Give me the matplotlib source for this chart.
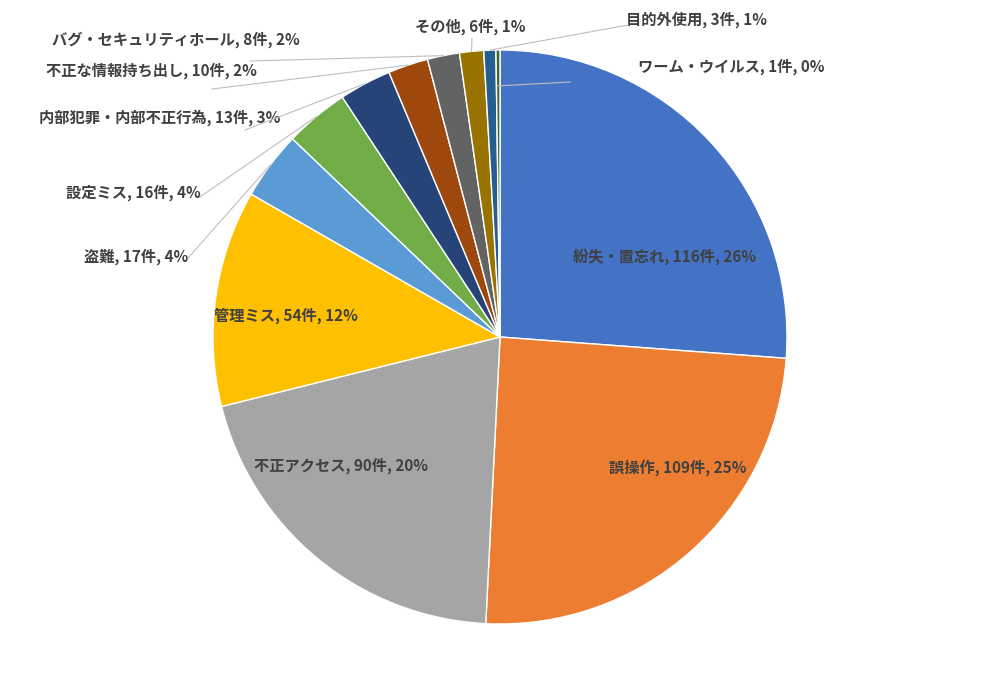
import numpy as np
import matplotlib
matplotlib.use("Agg")
import matplotlib.pyplot as plt

plt.rcParams["font.family"] = ["Noto Sans CJK JP", "DejaVu Sans"]

categories = [
    "紛失・置忘れ", "誤操作", "不正アクセス", "管理ミス", "盗難", "設定ミス",
    "内部犯罪・内部不正行為", "不正な情報持ち出し", "バグ・セキュリティホール",
    "その他", "目的外使用", "ワーム・ウイルス",
]
counts = [116, 109, 90, 54, 17, 16, 13, 10, 8, 6, 3, 1]
colors = [
    "#4472C4", "#ED7D31", "#A5A5A5", "#FFC000", "#5B9BD5", "#70AD47",
    "#264478", "#9E480E", "#636363", "#997300", "#255E91", "#43682B",
]

W, H = 1000, 674
cx, cy, R = 500, 337, 287

fig = plt.figure(figsize=(W / 100, H / 100), dpi=100)
ax = fig.add_axes([0, 0, 1, 1])
ax.set_xlim(0, W)
ax.set_ylim(0, H)
ax.axis("off")

ax.pie(counts, colors=colors, startangle=90, counterclock=False,
       center=(cx, H - cy), radius=R,
       wedgeprops=dict(edgecolor="white", linewidth=1.0))
ax.set_xlim(0, W)
ax.set_ylim(0, H)

total = sum(counts)
pct = [round(c / total * 100) for c in counts]
labels = [f"{n}, {c}件, {p}%" for n, c, p in zip(categories, counts, pct)]

# label centres in pixels (x, y from top); inside labels have no leader
label_pos = [
    (665, 257), (678, 468), (341, 466), (286, 316), (136, 257), (133, 193),
    (160, 118), (151, 71), (176, 40), (470, 27), (697, 20), (731, 67),
]
# leader start (pixel) and radius fraction at the wedge end
leaders = {
    4: ((188, 258), 1.0),
    5: ((200, 197), 1.0),
    6: ((245, 130), 1.0),
    7: ((212, 89), 1.0),
    8: ((250, 61), 1.0),
    9: ((472, 38), 1.0),
    10: ((628, 25), 1.0),
    11: ((570, 82), 0.875),
}

cum = np.cumsum([0] + counts)
for i, lab in enumerate(labels):
    x, y = label_pos[i]
    ax.text(x, H - y, lab, ha="center", va="center", fontsize=11,
            fontweight="bold", color="#404040")
    if i in leaders:
        (sx, sy), frac = leaders[i]
        mid = (cum[i] + cum[i + 1]) / 2 / total * 2 * np.pi
        ex = cx + R * frac * np.sin(mid)
        ey = cy - R * frac * np.cos(mid)
        ax.plot([sx, ex], [H - sy, H - ey], color="#BFBFBF", linewidth=0.8,
                zorder=3)

fig.savefig("out.png", dpi=100)
